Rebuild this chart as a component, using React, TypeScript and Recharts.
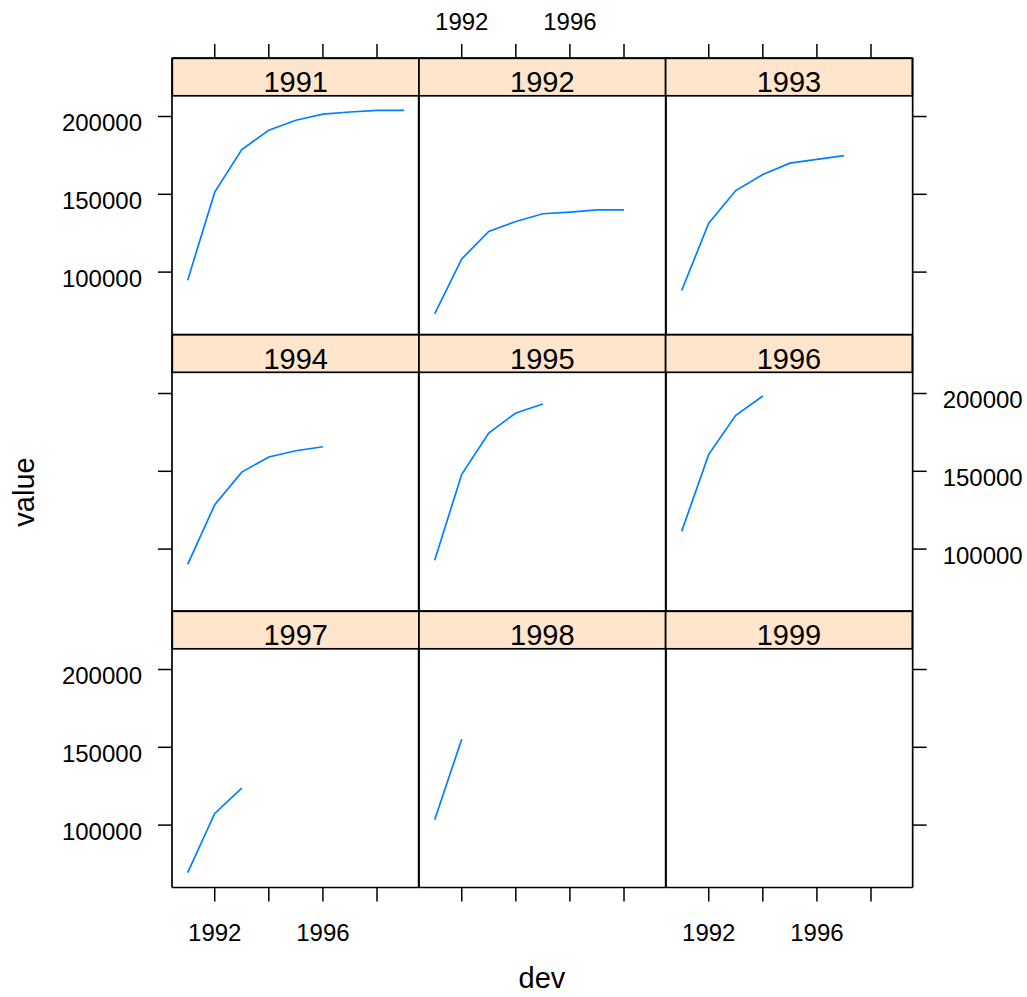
import React from 'react';
import { LineChart, Line, XAxis, YAxis } from 'recharts';

// ---------- data ----------
const devYears = [1991, 1992, 1993, 1994, 1995, 1996, 1997, 1998, 1999];
const originYears = [1991, 1992, 1993, 1994, 1995, 1996, 1997, 1998, 1999];

const value1991 = [94800, 151400, 178800, 191200, 197600, 201500, 202900, 203900, 203900];
const value1992 = [73200, 108500, 126100, 132500, 137500, 138600, 140000, 140000];
const value1993 = [88200, 131400, 152400, 162700, 170000, 172400, 174900];
const value1994 = [90200, 128500, 149500, 159200, 163200, 165800];
const value1995 = [92800, 148100, 174600, 187500, 193300];
const value1996 = [111400, 160900, 186000, 198400];
const value1997 = [69500, 107500, 123700];
const value1998 = [103400, 155200];
const value1999: number[] = [];

const panelValues = [value1991, value1992, value1993, value1994, value1995, value1996, value1997, value1998, value1999];

const xTicks = [1992, 1994, 1996, 1998];
const xTickLabels = [1992, 1996];
const yTicks = [100000, 150000, 200000];

// ---------- scales / layout ----------
const X_DOMAIN: [number, number] = [1990.42, 1999.54];
const Y_MIN = 59900;
const Y_PANEL_MAX = 213500;

const LEFT = 172.3;
const TOP = 58.3;
const COL_W = 246.67;
const STRIP_H = 37.5;
const PANEL_H = 239;
const ROW_STEP = STRIP_H + PANEL_H;
const AX_W = 130;
const AX_H = 70;
const TICK = 14;

const Y_TOP = Y_PANEL_MAX + ((Y_PANEL_MAX - Y_MIN) * STRIP_H) / PANEL_H;

const FONT = '"Liberation Sans", Arial, Helvetica, sans-serif';
const LINE_COLOR = '#0080ff';
const STRIP_FILL = '#ffe5cc';

const axisLineStyle = { stroke: '#000', strokeWidth: 1.7 };
const tickLineStyle = { stroke: '#000', strokeWidth: 1.5 };

function xTickRenderer(show: boolean, dy: number) {
  return (props: any) => {
    const { x, y, payload } = props;
    const label = show && xTickLabels.includes(payload.value) ? String(payload.value) : '';
    return (
      <text x={x} y={y + dy} textAnchor="middle" fontSize={24} fontFamily={FONT} fill="#000">
        {label}
      </text>
    );
  };
}

function yTickRenderer(show: boolean, side: 'left' | 'right') {
  return (props: any) => {
    const { x, y, payload } = props;
    const label = show ? String(payload.value) : '';
    return (
      <text
        x={side === 'left' ? x - 16 : x + 16}
        y={y + 14.5}
        textAnchor={side === 'left' ? 'end' : 'start'}
        fontSize={24}
        fontFamily={FONT}
        fill="#000"
      >
        {label}
      </text>
    );
  };
}

function Panel({ index }: { index: number }) {
  const r = Math.floor(index / 3);
  const c = index % 3;
  const values = panelValues[index];
  const data = values.map((v, i) => ({ dev: devYears[i], value: v }));
  const colLeft = LEFT + c * COL_W;
  const stripTop = TOP + r * ROW_STEP;
  const width = COL_W + 2 * AX_W;
  const height = ROW_STEP + 2 * AX_H;

  const bottomTicks = r === 2;
  const bottomLabels = r === 2 && c !== 1;
  const topTicks = r === 0;
  const topLabels = r === 0 && c === 1;
  const leftTicks = c === 0;
  const leftLabels = c === 0 && r !== 1;
  const rightTicks = c === 2;
  const rightLabels = c === 2 && r === 1;

  return (
    <div style={{ position: 'absolute', left: colLeft - AX_W, top: stripTop - AX_H, width, height }}>
      <LineChart width={width} height={height} data={data} margin={{ top: 0, right: 0, bottom: 0, left: 0 }}>
        <XAxis
          xAxisId="b"
          orientation="bottom"
          type="number"
          dataKey="dev"
          domain={X_DOMAIN}
          ticks={xTicks}
          interval={0}
          allowDataOverflow
          height={AX_H}
          axisLine={axisLineStyle}
          tickLine={bottomTicks ? tickLineStyle : false}
          tickSize={TICK}
          tickMargin={0}
          tick={bottomTicks ? xTickRenderer(bottomLabels, 39.5) : false}
        />
        <XAxis
          xAxisId="t"
          orientation="top"
          type="number"
          dataKey="dev"
          domain={X_DOMAIN}
          ticks={xTicks}
          interval={0}
          allowDataOverflow
          height={AX_H}
          axisLine={axisLineStyle}
          tickLine={topTicks ? tickLineStyle : false}
          tickSize={TICK}
          tickMargin={0}
          tick={topTicks ? xTickRenderer(topLabels, -14) : false}
        />
        <YAxis
          yAxisId="l"
          orientation="left"
          type="number"
          domain={[Y_MIN, Y_TOP]}
          ticks={yTicks}
          interval={0}
          allowDataOverflow
          width={AX_W}
          axisLine={axisLineStyle}
          tickLine={leftTicks ? tickLineStyle : false}
          tickSize={TICK}
          tickMargin={0}
          tick={leftTicks ? yTickRenderer(leftLabels, 'left') : false}
        />
        <YAxis
          yAxisId="r"
          orientation="right"
          type="number"
          domain={[Y_MIN, Y_TOP]}
          ticks={yTicks}
          interval={0}
          allowDataOverflow
          width={AX_W}
          axisLine={axisLineStyle}
          tickLine={rightTicks ? tickLineStyle : false}
          tickSize={TICK}
          tickMargin={0}
          tick={rightTicks ? yTickRenderer(rightLabels, 'right') : false}
        />
        <Line
          xAxisId="b"
          yAxisId="l"
          type="linear"
          dataKey="value"
          stroke={LINE_COLOR}
          strokeWidth={1.7}
          dot={false}
          activeDot={false}
          isAnimationActive={false}
        />
      </LineChart>
    </div>
  );
}

export default function App() {
  return (
    <div
      style={{
        position: 'absolute',
        left: 0,
        top: 0,
        width: 1027,
        height: 997,
        background: '#fff',
        fontFamily: FONT,
        overflow: 'hidden',
      }}
    >
      {originYears.map((_, i) => (
        <Panel key={i} index={i} />
      ))}
      <svg
        width={1027}
        height={997}
        style={{ position: 'absolute', left: 0, top: 0, pointerEvents: 'none' }}
      >
        {originYears.map((year, i) => {
          const r = Math.floor(i / 3);
          const c = i % 3;
          const x = LEFT + c * COL_W;
          const y = TOP + r * ROW_STEP;
          return (
            <g key={year}>
              <rect x={x} y={y} width={COL_W} height={STRIP_H} fill={STRIP_FILL} stroke="#000" strokeWidth={1.7} />
              <text x={x + COL_W / 2} y={y + 34} textAnchor="middle" fontSize={29} fontFamily={FONT} fill="#000">
                {year}
              </text>
            </g>
          );
        })}
        <text
          x={34}
          y={492}
          transform="rotate(-90 34 492)"
          textAnchor="middle"
          fontSize={29}
          fontFamily={FONT}
          fill="#000"
        >
          value
        </text>
        <text x={542} y={988} textAnchor="middle" fontSize={29} fontFamily={FONT} fill="#000">
          dev
        </text>
      </svg>
    </div>
  );
}
